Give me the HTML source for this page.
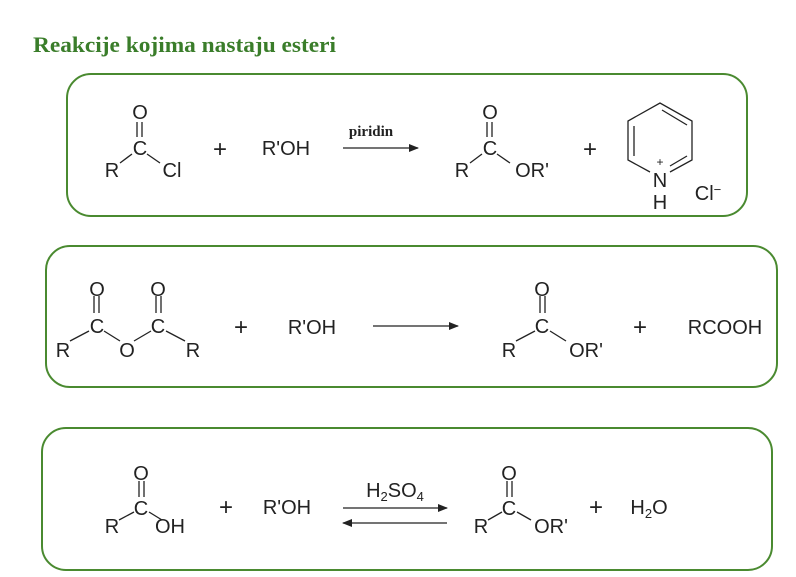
<!DOCTYPE html>
<html><head><meta charset="utf-8"><style>
html,body{margin:0;padding:0;background:#fff;width:796px;height:577px;overflow:hidden}
svg text{font-family:"Liberation Sans Narrow","Liberation Sans",sans-serif;font-size:20px;fill:#222}
.p{font-size:24px}
</style></head><body>
<svg width="796" height="577" viewBox="0 0 796 577" xmlns="http://www.w3.org/2000/svg">
<defs><marker id="ah" markerWidth="10" markerHeight="8" refX="9" refY="4" orient="auto" markerUnits="userSpaceOnUse"><path d="M0,0 L10,4 L0,8 Z" fill="#222"/></marker></defs>
<text x="33" y="52" textLength="303" lengthAdjust="spacingAndGlyphs" style="font-family:'Liberation Serif',serif;font-size:22px;font-weight:bold;fill:#3a7d2a">Reakcije kojima nastaju esteri</text>
<g fill="none" stroke="#4a8a30" stroke-width="2">
<rect x="67" y="74" width="680" height="142" rx="24"/>
<rect x="46" y="246" width="731" height="141" rx="24"/>
<rect x="42" y="428" width="730" height="142" rx="24"/>
</g>
<g stroke="#222" stroke-width="1.3" fill="none">
<line x1="137" y1="122" x2="137" y2="137"/><line x1="142" y1="122" x2="142" y2="137"/>
<line x1="120" y1="163" x2="132" y2="154"/><line x1="147" y1="154" x2="160" y2="163"/>
<line x1="343" y1="148" x2="418" y2="148" marker-end="url(#ah)"/>
<line x1="487" y1="122" x2="487" y2="137"/><line x1="492" y1="122" x2="492" y2="137"/>
<line x1="470" y1="163" x2="482" y2="154"/><line x1="497" y1="154" x2="510" y2="163"/>
<path d="M650,172 L628,160 L628,121 L660,103 L692,121 L692,160 L670,172"/>
<line x1="634" y1="126" x2="634" y2="156"/>
<line x1="662" y1="110" x2="687" y2="125"/>
<line x1="670" y1="166" x2="687" y2="156"/>
<line x1="94" y1="296" x2="94" y2="313"/><line x1="99" y1="296" x2="99" y2="313"/>
<line x1="156" y1="296" x2="156" y2="313"/><line x1="161" y1="296" x2="161" y2="313"/>
<line x1="70" y1="341" x2="89" y2="331"/><line x1="104" y1="331" x2="120" y2="341"/>
<line x1="134" y1="341" x2="151" y2="331"/><line x1="166" y1="331" x2="185" y2="341"/>
<line x1="373" y1="326" x2="458" y2="326" marker-end="url(#ah)"/>
<line x1="540" y1="296" x2="540" y2="313"/><line x1="545" y1="296" x2="545" y2="313"/>
<line x1="516" y1="341" x2="535" y2="331"/><line x1="550" y1="331" x2="566" y2="341"/>
<line x1="139" y1="481" x2="139" y2="497"/><line x1="144" y1="481" x2="144" y2="497"/>
<line x1="119" y1="520" x2="134" y2="512"/><line x1="149" y1="512" x2="162" y2="520"/>
<line x1="343" y1="508" x2="447" y2="508" marker-end="url(#ah)"/>
<line x1="447" y1="523" x2="343" y2="523" marker-end="url(#ah)"/>
<line x1="507" y1="481" x2="507" y2="497"/><line x1="512" y1="481" x2="512" y2="497"/>
<line x1="488" y1="520" x2="502" y2="512"/><line x1="517" y1="512" x2="531" y2="520"/>
</g>
<g text-anchor="middle">
<text x="140" y="119">O</text><text x="140" y="155">C</text><text x="112" y="177">R</text><text x="172" y="177">Cl</text>
<text class="p" x="220" y="157">+</text><text x="286" y="155">R'OH</text>
<text x="371" y="136" style="font-family:'Liberation Serif',serif;font-size:15px;font-weight:bold">piridin</text>
<text x="490" y="119">O</text><text x="490" y="155">C</text><text x="462" y="177">R</text><text x="532" y="177">OR'</text>
<text class="p" x="590" y="157">+</text>
<text x="660" y="166" style="font-size:12px">+</text>
<text x="660" y="187">N</text><text x="660" y="209">H</text>
<text x="708" y="200">Cl<tspan dy="-6" style="font-size:13px">−</tspan></text>

<text x="97" y="296">O</text><text x="158" y="296">O</text>
<text x="97" y="333">C</text><text x="158" y="333">C</text>
<text x="63" y="357">R</text><text x="127" y="357">O</text><text x="193" y="357">R</text>
<text class="p" x="241" y="335">+</text><text x="312" y="334">R'OH</text>
<text x="542" y="296">O</text><text x="542" y="333">C</text><text x="509" y="357">R</text><text x="586" y="357">OR'</text>
<text class="p" x="640" y="335">+</text><text x="725" y="334">RCOOH</text>

<text x="141" y="480">O</text><text x="141" y="515">C</text><text x="112" y="533">R</text><text x="170" y="533">OH</text>
<text class="p" x="226" y="515">+</text><text x="287" y="514">R'OH</text>
<text x="395" y="497">H<tspan dy="4" style="font-size:13px">2</tspan><tspan dy="-4">SO</tspan><tspan dy="4" style="font-size:13px">4</tspan></text>
<text x="509" y="480">O</text><text x="509" y="515">C</text><text x="481" y="533">R</text><text x="551" y="533">OR'</text>
<text class="p" x="596" y="515">+</text>
<text x="649" y="514">H<tspan dy="4" style="font-size:13px">2</tspan><tspan dy="-4">O</tspan></text>
</g>
</svg>
</body></html>
